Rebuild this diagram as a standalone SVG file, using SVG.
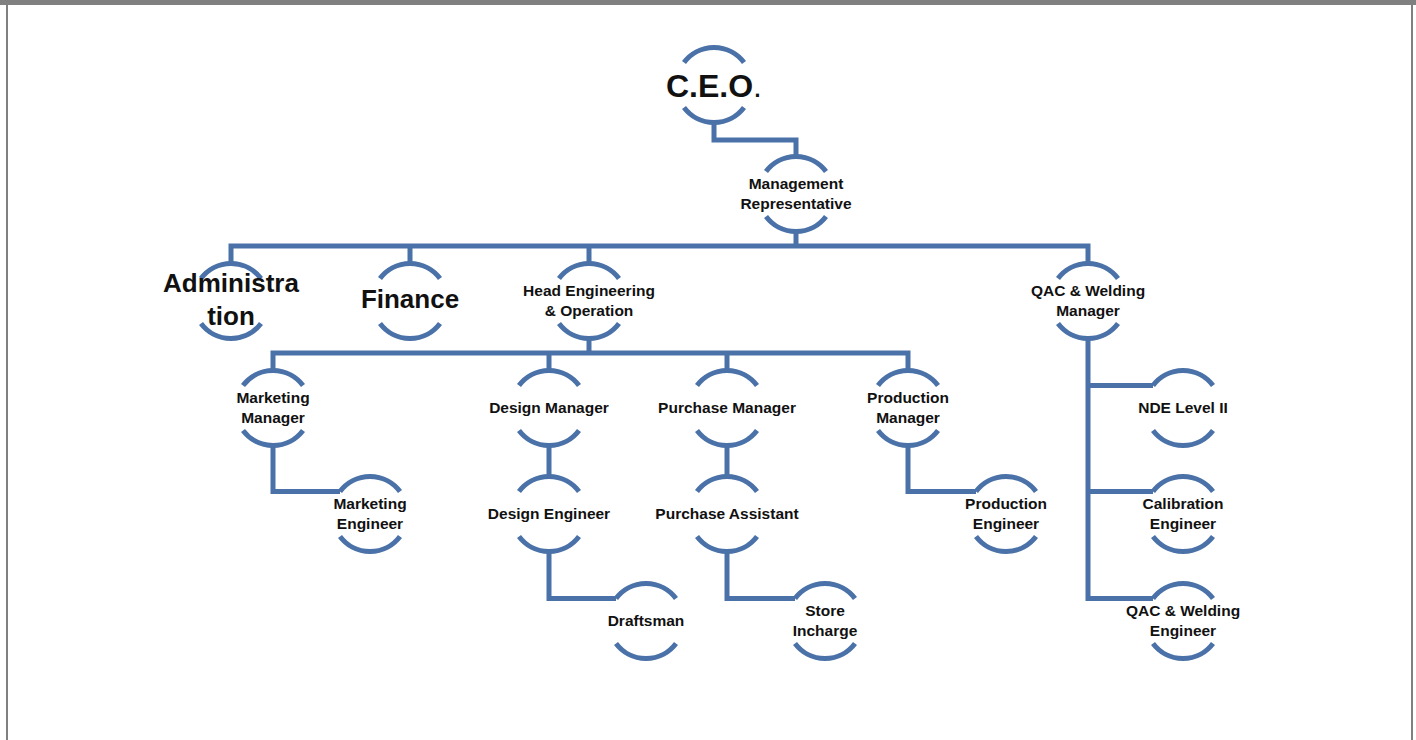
<svg xmlns="http://www.w3.org/2000/svg" xmlns:xlink="http://www.w3.org/1999/xlink" width="1416" height="740" viewBox="0 0 1416 740">
<style>
.arc{fill:none;stroke:#4A72A8;stroke-width:5}
.con{fill:none;stroke:#4A72A8;stroke-width:5;stroke-linejoin:miter}
.t{font-family:"Liberation Sans",Arial,sans-serif;font-weight:bold;font-size:15.5px;fill:#111;text-anchor:middle}
.big{font-family:"Liberation Sans",Arial,sans-serif;font-weight:bold;font-size:26px;fill:#111;text-anchor:middle}
.ceo{font-family:"Liberation Sans",Arial,sans-serif;font-weight:bold;font-size:32px;fill:#111;text-anchor:middle}
</style>
<defs>
<path id="node" d="M-30,-22.5 A37.5,37.5 0 0 1 30,-22.5 M-30,22.5 A37.5,37.5 0 0 0 30,22.5"/>
</defs>
<rect x="0" y="0" width="1416" height="740" fill="#fff"/>
<rect x="0" y="0" width="1416" height="5" fill="#808080"/>
<rect x="6" y="0" width="2" height="740" fill="#808080"/>
<rect x="1411" y="0" width="2" height="740" fill="#808080"/>

<g id="connectors">
<path class="con" d="M714,122.5 V140 H796 V156.5"/>
<path class="con" d="M796,231.5 V246"/>
<path class="con" d="M231,263.5 V246 H1088 V263.5 M410,246 V263.5 M589,246 V263.5"/>
<path class="con" d="M589,338.5 V353"/>
<path class="con" d="M273,370.5 V353 H908 V370.5 M549,353 V370.5 M727,353 V370.5"/>
<path class="con" d="M549,445.5 V476.5 M727,445.5 V476.5"/>
<path class="con" d="M273,445.5 V491.5 H340"/>
<path class="con" d="M908,445.5 V491.5 H976"/>
<path class="con" d="M549,551.5 V598.5 H616"/>
<path class="con" d="M727,551.5 V598.5 H795"/>
<path class="con" d="M1088,338.5 V598.5 H1153 M1088,385.5 H1153 M1088,491.5 H1153"/>
</g>

<g id="ceo"><use href="#node" xlink:href="#node" class="arc" transform="translate(714,85)"/><text class="ceo" x="714" y="97">C.E.O<tspan font-weight="normal">.</tspan></text></g>
<g id="mr"><use href="#node" xlink:href="#node" class="arc" transform="translate(796,194)"/><text class="t" x="796" y="189">Management</text><text class="t" x="796" y="209">Representative</text></g>
<g id="admin"><use href="#node" xlink:href="#node" class="arc" transform="translate(231,301)"/><text class="big" x="231" y="292">Administra</text><text class="big" x="231" y="325">tion</text></g>
<g id="finance"><use href="#node" xlink:href="#node" class="arc" transform="translate(410,301)"/><text class="big" x="410" y="308">Finance</text></g>
<g id="heo"><use href="#node" xlink:href="#node" class="arc" transform="translate(589,301)"/><text class="t" x="589" y="296">Head Engineering</text><text class="t" x="589" y="316">&amp; Operation</text></g>
<g id="qacm"><use href="#node" xlink:href="#node" class="arc" transform="translate(1088,301)"/><text class="t" x="1088" y="296">QAC &amp; Welding</text><text class="t" x="1088" y="316">Manager</text></g>
<g id="mm"><use href="#node" xlink:href="#node" class="arc" transform="translate(273,408)"/><text class="t" x="273" y="403">Marketing</text><text class="t" x="273" y="423">Manager</text></g>
<g id="dm"><use href="#node" xlink:href="#node" class="arc" transform="translate(549,408)"/><text class="t" x="549" y="413">Design Manager</text></g>
<g id="pm"><use href="#node" xlink:href="#node" class="arc" transform="translate(727,408)"/><text class="t" x="727" y="413">Purchase Manager</text></g>
<g id="prm"><use href="#node" xlink:href="#node" class="arc" transform="translate(908,408)"/><text class="t" x="908" y="403">Production</text><text class="t" x="908" y="423">Manager</text></g>
<g id="me"><use href="#node" xlink:href="#node" class="arc" transform="translate(370,514)"/><text class="t" x="370" y="509">Marketing</text><text class="t" x="370" y="529">Engineer</text></g>
<g id="de"><use href="#node" xlink:href="#node" class="arc" transform="translate(549,514)"/><text class="t" x="549" y="519">Design Engineer</text></g>
<g id="pa"><use href="#node" xlink:href="#node" class="arc" transform="translate(727,514)"/><text class="t" x="727" y="519">Purchase Assistant</text></g>
<g id="pe"><use href="#node" xlink:href="#node" class="arc" transform="translate(1006,514)"/><text class="t" x="1006" y="509">Production</text><text class="t" x="1006" y="529">Engineer</text></g>
<g id="nde"><use href="#node" xlink:href="#node" class="arc" transform="translate(1183,408)"/><text class="t" x="1183" y="413">NDE Level II</text></g>
<g id="cal"><use href="#node" xlink:href="#node" class="arc" transform="translate(1183,514)"/><text class="t" x="1183" y="509">Calibration</text><text class="t" x="1183" y="529">Engineer</text></g>
<g id="qe"><use href="#node" xlink:href="#node" class="arc" transform="translate(1183,621)"/><text class="t" x="1183" y="616">QAC &amp; Welding</text><text class="t" x="1183" y="636">Engineer</text></g>
<g id="dr"><use href="#node" xlink:href="#node" class="arc" transform="translate(646,621)"/><text class="t" x="646" y="626">Draftsman</text></g>
<g id="si"><use href="#node" xlink:href="#node" class="arc" transform="translate(825,621)"/><text class="t" x="825" y="616">Store</text><text class="t" x="825" y="636">Incharge</text></g>
</svg>
